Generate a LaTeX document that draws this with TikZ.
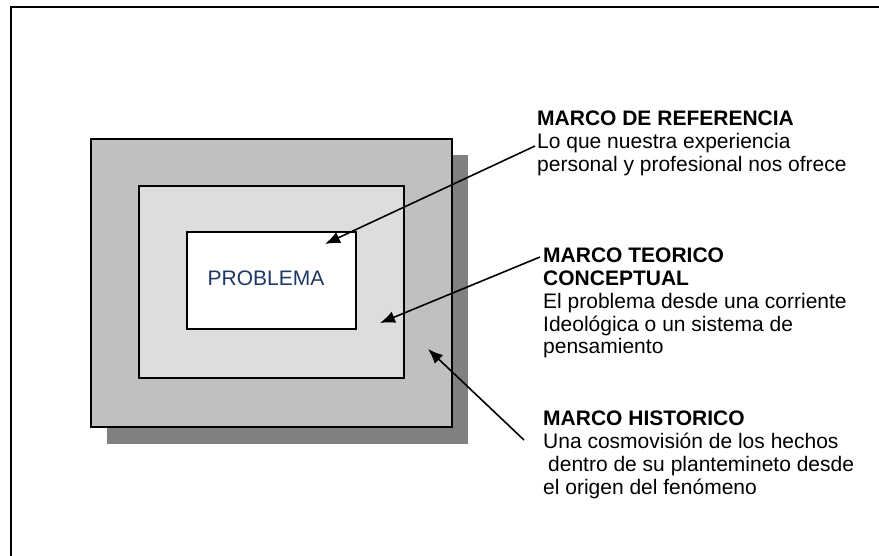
\documentclass[tikz,border=0pt]{standalone}
\usepackage{fontspec}
\setmainfont{Liberation Sans}
\usetikzlibrary{arrows.meta}

\definecolor{grisSombra}{HTML}{808080}
\definecolor{grisHist}{HTML}{C0C0C0}
\definecolor{grisTeo}{HTML}{DDDDDD}
\definecolor{azulProb}{HTML}{1F3864}

\begin{document}
\begin{tikzpicture}[x=1pt, y=-1pt, >={Latex[length=15pt,width=12pt]},
		font=\fontsize{21}{23}\selectfont,
		caja/.style={draw, line width=2pt, inner sep=0pt},
		texto/.style={anchor=base west, align=left, inner sep=0pt},
		flecha/.style={->, line width=1.6pt}]
		
		\useasboundingbox (0,0) rectangle (879,556);
		
		% --- Marco de la hoja
		\draw[line width=2.2pt] (11,556) -- (11,7) -- (879,7);
		
		% --- Sombra del marco historico
		\node[fill=grisSombra, minimum width=361, minimum height=288] (sombra) at (287.5,299.5) {};
		
		% --- Marcos anidados
		\node[caja, fill=grisHist, minimum width=361, minimum height=288] (hist) at (271.5,283) {};
		\node[caja, fill=grisTeo, minimum width=265, minimum height=192] (teo) at (271.5,282) {};
		\node[caja, fill=white, minimum width=169, minimum height=97] (prob) at (271.5,280.5) {};
		\node[azulProb] (probText) at (266,278) {PROBLEMA};
		
		% --- Textos de la derecha (base = ultima linea)
		\node[texto] (refText) at (537,172) {\textbf{MARCO DE REFERENCIA}\\Lo que nuestra experiencia\\personal y profesional nos ofrece};
		\node[texto] (teoText) at (543,354) {\textbf{MARCO TEORICO}\\\textbf{CONCEPTUAL}\\El problema desde una corriente\\Ideológica o un sistema de\\pensamiento};
		\node[texto] (histText) at (543,494) {\textbf{MARCO HISTORICO}\\Una cosmovisión de los hechos\\\hspace*{5pt}dentro de su plantemineto desde\\el origen del fenómeno};
		
		% --- Flechas
		\coordinate (refFrom) at ([shift={(-2,-26)}]refText.base west);
		\coordinate (teoFrom) at ([shift={(-3,-97)}]teoText.base west);
		\coordinate (histFrom) at ([shift={(-19,-54)}]histText.base west);
		\coordinate (refTo) at (325,244);
		\coordinate (teoTo) at (380,323);
		\coordinate (histTo) at (428,349);
		
		\draw[flecha] (refFrom) -- (refTo);
		\draw[flecha] (teoFrom) -- (teoTo);
		\draw[flecha] (histFrom) -- (histTo);
		
	\end{tikzpicture}
\end{document}
